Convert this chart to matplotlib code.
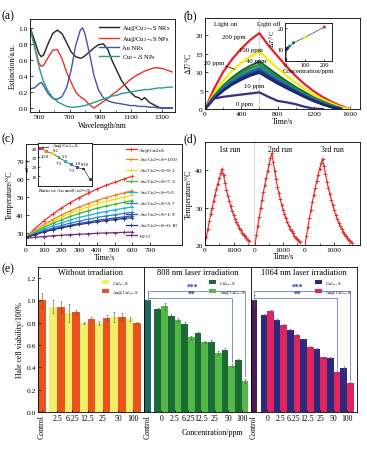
import numpy as np
import matplotlib
matplotlib.use('Agg')
import matplotlib.pyplot as plt
from matplotlib.ticker import MultipleLocator

plt.rcParams['font.family'] = ['Liberation Serif', 'DejaVu Serif']
plt.rcParams['mathtext.fontset'] = 'stix'
plt.rcParams['axes.linewidth'] = 0.6
plt.rcParams['xtick.direction'] = 'in'
plt.rcParams['ytick.direction'] = 'in'
plt.rcParams['xtick.major.size'] = 2
plt.rcParams['ytick.major.size'] = 2
plt.rcParams['xtick.minor.size'] = 1.2
plt.rcParams['ytick.minor.size'] = 1.2
plt.rcParams['xtick.major.width'] = 0.5
plt.rcParams['ytick.major.width'] = 0.5
plt.rcParams['xtick.minor.width'] = 0.4
plt.rcParams['ytick.minor.width'] = 0.4
plt.rcParams['xtick.major.pad'] = 1.5
plt.rcParams['ytick.major.pad'] = 1.5
plt.rcParams['xtick.labelsize'] = 5.4
plt.rcParams['ytick.labelsize'] = 5.4
plt.rcParams['axes.labelsize'] = 5.6
plt.rcParams['axes.labelpad'] = 1.5

# ---------------- data: panel (a) ----------------
wavelength = [445, 470, 500, 515, 530, 560, 590, 620, 650, 680, 710, 740, 770, 785, 800, 830,
              860, 890, 920, 950, 980, 1010, 1040, 1070, 1100, 1130, 1150, 1170, 1190, 1220,
              1250, 1280, 1310, 1340, 1370]
ext_nrs = [0.99, 0.85, 0.68, 0.64, 0.66, 0.80, 0.93, 0.97, 0.93, 0.82, 0.70, 0.64, 0.62, 0.63, 0.65, 0.70,
           0.75, 0.79, 0.80, 0.73, 0.58, 0.46, 0.34, 0.26, 0.19, 0.14, 0.13, 0.10, 0.13, 0.07,
           0.04, 0.01, 0.00, 0.00, 0.00]
ext_nps = [0.98, 0.78, 0.56, 0.52, 0.53, 0.63, 0.72, 0.73, 0.62, 0.45, 0.32, 0.20, 0.14, 0.12, 0.10, 0.04,
           0.00, 0.04, 0.08, 0.12, 0.17, 0.21, 0.26, 0.31, 0.36, 0.40, 0.42, 0.44, 0.46, 0.48,
           0.50, 0.50, 0.49, 0.47, 0.45]
ext_au = [0.24, 0.25, 0.30, 0.32, 0.28, 0.18, 0.12, 0.11, 0.14, 0.25, 0.47, 0.78, 0.97, 1.00, 0.93, 0.68,
          0.40, 0.22, 0.13, 0.09, 0.07, 0.06, 0.05, 0.04, 0.03, 0.03, 0.02, 0.02, 0.02, 0.01,
          0.01, 0.00, 0.00, 0.00, 0.00]
ext_cu = [0.98, 0.78, 0.52, 0.42, 0.33, 0.21, 0.13, 0.08, 0.05, 0.02, 0.01, 0.01, 0.02, 0.025, 0.03, 0.05,
          0.07, 0.09, 0.11, 0.13, 0.15, 0.16, 0.18, 0.19, 0.20, 0.21, 0.22, 0.22, 0.23, 0.23,
          0.24, 0.25, 0.25, 0.26, 0.26]
a_labels = ['Au@Cu$_{2-x}$S NRs', 'Au@Cu$_{2-x}$S NPs', 'Au NRs', 'Cu$_{2-x}$S NPs']
a_colors = ['#222222', '#e8302c', '#4452b0', '#1fa08e']

# ---------------- data: panel (b) ----------------
time_b = [0, 100, 200, 300, 400, 500, 600, 700, 800, 900, 1000, 1100, 1200, 1300, 1400, 1500, 1600]
nan = np.nan
dT_200 = [0, 5.5, 10.0, 13.5, 16.3, 18.7, 20.5, 17.2, 14.3, 11.5, 8.9, 6.7, 4.8, 3.2, 1.9, 0.8, 0.0]
dT_100 = [0, 4.2, 7.6, 10.3, 12.5, 14.2, 15.6, 13.2, 11.0, 9.0, 7.1, 5.4, 3.9, 2.6, 1.5, 0.5, 0.0]
dT_40 = [0, 3.5, 6.3, 8.5, 10.3, 11.7, 12.8, 11.0, 9.2, 7.5, 5.9, 4.5, 3.1, 2.0, 1.0, 0.2, nan]
dT_30 = [0, 3.3, 5.9, 8.0, 9.7, 11.0, 12.0, 10.3, 8.6, 7.0, 5.5, 4.1, 2.9, 1.8, 0.9, 0.1, nan]
dT_20 = [0, 3.1, 5.6, 7.5, 9.1, 10.3, 11.3, 9.7, 8.1, 6.6, 5.2, 3.9, 2.7, 1.6, 0.7, 0.0, nan]
dT_15 = [0, 3.0, 5.3, 7.2, 8.7, 9.9, 10.8, 9.2, 7.7, 6.3, 4.9, 3.6, 2.5, 1.5, 0.6, 0.0, nan]
dT_10 = [0, 2.9, 5.1, 6.9, 8.3, 9.4, 10.3, 8.8, 7.3, 6.0, 4.7, 3.4, 2.3, 1.3, 0.5, 0.0, nan]
dT_5 = [0, 2.8, 4.9, 6.6, 7.9, 9.0, 9.8, 8.3, 6.9, 5.6, 4.4, 3.2, 2.1, 1.2, 0.4, 0.0, nan]
dT_0 = [0, 2.8, 3.3, 3.6, 3.9, 4.2, 4.5, 3.3, 2.2, 1.8, 1.3, 0.6, 0.1, 0.0, nan, nan, nan]
b_series = [dT_200, dT_100, dT_40, dT_30, dT_20, dT_15, dT_10, dT_5, dT_0]
b_colors = ['#e8202a', '#f2ee00', '#17642c', '#2a8a40', '#178a8c', '#1f5ca6', '#1c2f88', '#22226a', '#3c2a8c']
inset_conc = [0, 5, 10, 20, 40, 100, 200]
inset_dT = [4.8, 9.8, 10.4, 11.3, 12.9, 15.6, 20.6]
inset_colors = ['#3c2a8c', '#22226a', '#1c2f88', '#178a8c', '#17642c', '#f2ee00', '#e8202a']

# ---------------- data: panel (c) ----------------
time_c = [0, 50, 100, 150, 200, 250, 300, 350, 400, 450, 500, 550, 600]
T_core = [27.5, 32.3, 36.7, 40.4, 43.8, 46.9, 49.6, 52.0, 54.4, 56.4, 58.1, 59.8, 61.5]
T_10_0 = [27.5, 31.1, 34.5, 37.4, 40.0, 42.3, 44.4, 46.2, 48.0, 49.6, 50.9, 52.2, 53.5]
T_9_1 = [27.5, 30.8, 33.8, 36.4, 38.8, 40.9, 42.8, 44.4, 46.1, 47.5, 48.7, 49.8, 51.0]
T_7_3 = [27.5, 30.4, 33.0, 35.3, 37.3, 39.2, 40.8, 42.3, 43.7, 44.9, 45.9, 47.0, 48.0]
T_5_5 = [27.5, 29.9, 32.1, 34.0, 35.7, 37.2, 38.6, 39.7, 40.9, 41.9, 42.8, 43.7, 44.5]
T_3_7 = [27.5, 29.5, 31.3, 32.8, 34.2, 35.5, 36.6, 37.6, 38.6, 39.4, 40.1, 40.8, 41.5]
T_1_9 = [27.5, 29.2, 30.7, 32.1, 33.3, 34.3, 35.3, 36.1, 37.0, 37.7, 38.3, 38.9, 39.5]
T_0_10 = [27.5, 29.0, 30.5, 31.7, 32.8, 33.8, 34.7, 35.4, 36.2, 36.9, 37.4, 38.0, 38.5]
T_h2o = [27.0, 27.6, 28.0, 28.4, 28.7, 29.0, 29.3, 29.5, 29.8, 30.0, 30.1, 30.3, 30.5]
c_series = [T_core, T_10_0, T_9_1, T_7_3, T_5_5, T_3_7, T_1_9, T_0_10, T_h2o]
c_labels = ['Au@Cu2xS', 'Au/Cu$_{2-x}$S=10:0', 'Au/Cu$_{2-x}$S=9:1', 'Au/Cu$_{2-x}$S=7:3',
            'Au/Cu$_{2-x}$S=5:5', 'Au/Cu$_{2-x}$S=3:7', 'Au/Cu$_{2-x}$S=1:9',
            'Au/Cu$_{2-x}$S=0:10', 'H$_2$O']
c_colors = ['#ee2a2a', '#f57c20', '#f0e000', '#3db83a', '#20b0e8', '#2f7fd0', '#2f55a8', '#2c2c80', '#702a78']
ratio_dT = [40, 36.5, 34, 30, 26, 22, 19, 17.5, 6]
ratio_text = ['', '10:0', '9:1', '7:3', '5:5', '7:3', '1:9', '0:10', '']

# ---------------- data: panel (d) ----------------
time_d = [0, 50, 100, 150, 200, 250, 300, 350, 400, 450, 500, 550, 600, 650, 700, 750, 800, 850,
          900, 950, 1000, 1050, 1100, 1150, 1200, 1250, 1300, 1350, 1400, 1450, 1500, 1550, 1600]
run1 = [20.0, 22.2, 24.3, 26.3, 28.2, 30.0, 31.7, 33.3, 34.9, 36.4, 37.8, 39.1, 40.4, 38.6, 36.6, 34.8,
        33.2, 31.7, 30.3, 29.1, 28.0, 27.0, 26.1, 25.3, 24.6, 23.9, 23.3, 22.8, 22.3, 21.8, 21.4, 21.0, nan]
run2 = [20.0, 22.6, 25.1, 27.5, 29.8, 32.0, 34.1, 36.1, 38.0, 39.8, 41.5, 43.1, 44.5, 42.2, 39.8, 37.6,
        35.6, 33.8, 32.2, 30.7, 29.4, 28.2, 27.1, 26.1, 25.2, 24.4, 23.7, 23.1, 22.5, 22.0, 21.5, 21.1, 20.7]
run3 = [20.0, 22.4, 24.8, 27.1, 29.3, 31.4, 33.4, 35.3, 37.1, 38.8, 40.4, 41.8, 43.0, 41.0, 38.9, 36.9,
        35.1, 33.5, 32.0, 30.6, 29.3, 28.1, 27.0, 26.0, 25.1, 24.3, 23.6, 23.0, 22.4, 21.9, 21.4, 21.0, 20.6]
run_names = ['1st run', '2nd run', '3rd run']

# ---------------- data: panel (e) ----------------
conc_g1 = ['Control', '2.5', '6.25', '12.5', '25', '50', '100']
conc_g23 = ['Control', '0', '2.5', '6.25', '12.5', '25', '50', '100']
ctrl_none, ctrl_none_err = 1.00, 0.065
cu_none = [0.945, 0.887, 0.797, 0.800, 0.850, 0.836]
cu_none_err = [0.06, 0.08, 0.01, 0.02, 0.045, 0.02]
au_none = [0.940, 0.896, 0.836, 0.845, 0.850, 0.800]
au_none_err = [0.055, 0.015, 0.015, 0.025, 0.035, 0.008]
ctrl_808, ctrl_808_err = 1.00, 0.07
cu_808 = [0.925, 0.865, 0.790, 0.710, 0.628, 0.560, 0.467]
cu_808_err = [0.005, 0.01, 0.02, 0.005, 0.02, 0.01, 0.01]
au_808 = [0.946, 0.826, 0.670, 0.630, 0.528, 0.416, 0.280]
au_808_err = [0.03, 0.02, 0.015, 0.01, 0.02, 0.015, 0.02]
ctrl_1064, ctrl_1064_err = 1.00, 0.05
cu_1064 = [0.870, 0.826, 0.737, 0.653, 0.569, 0.485, 0.395]
cu_1064_err = [0.01, 0.005, 0.008, 0.005, 0.005, 0.005, 0.015]
au_1064 = [0.904, 0.784, 0.690, 0.587, 0.490, 0.362, 0.260]
au_1064_err = [0.01, 0.005, 0.008, 0.005, 0.005, 0.015, 0.01]
group_titles = ['Without irradiation', '808 nm laser irradiation', '1064 nm laser irradiation']

# ---------------- figure ----------------
W, H = 367, 452
fig = plt.figure(figsize=(W / 100, H / 100), dpi=100)


def add_ax(l, t, r, b):
    return fig.add_axes([l / W, 1 - b / H, (r - l) / W, (b - t) / H])


def plabel(x, y, s):
    fig.text(x / W, 1 - y / H, s, fontsize=8.5, ha='left', va='center')


# ---- (a)
ax = add_ax(30, 20, 175, 113)
for ys, c, lab in zip([ext_nrs, ext_nps, ext_au, ext_cu], a_colors, a_labels):
    ax.plot(wavelength, ys, color=c, lw=1.0, label=lab)
ax.set_xlim(442, 1388)
ax.set_ylim(-0.05, 1.11)
ax.set_xticks([500, 700, 900, 1100, 1300])
ax.xaxis.set_minor_locator(MultipleLocator(100))
ax.set_yticks([0.0, 0.2, 0.4, 0.6, 0.8, 1.0])
ax.set_yticklabels(['0.0', '0.2', '0.4', '0.6', '0.8', '1.0'])
ax.set_xlabel('Wavelength/nm')
ax.set_ylabel('Extinction/a.u.')
ax.legend(loc='upper right', fontsize=4.6, frameon=False, handlelength=3.2, handletextpad=0.5,
          labelspacing=0.25, borderaxespad=0.3)
plabel(2, 16, '(a)')

# ---- (b)
ax = add_ax(205, 19, 360, 110)
for ys, c in zip(b_series, b_colors):
    ax.plot(time_b, ys, color=c, lw=1.6, solid_joinstyle='round')
ax.axvline(600, color='#555555', lw=0.5, ls=':')
ax.set_xlim(0, 1710)
ax.set_ylim(0, 24.6)
ax.set_xticks([0, 400, 800, 1200, 1600])
ax.xaxis.set_minor_locator(MultipleLocator(200))
ax.set_yticks([0, 5, 10, 15, 20])
ax.set_xlabel('Time/s', labelpad=1)
ax.set_ylabel(r'$\Delta T$/°C')
fs = 4.9
ax.text(226, 23.2, 'Light on', fontsize=fs, ha='center', va='center')
ax.text(700, 23.2, 'Light off', fontsize=4.7, ha='center', va='center')
ax.text(320, 19.6, '200 ppm', fontsize=fs, ha='center', va='center')
ax.text(505, 16.1, '100 ppm', fontsize=fs, ha='center', va='center')
ax.text(560, 13.1, '40 ppm', fontsize=fs, ha='center', va='center')
ax.text(100, 12.6, '20 ppm', fontsize=fs, ha='center', va='center')
ax.annotate('', xy=(357, 10.5), xytext=(195, 11.9),
            arrowprops=dict(arrowstyle='-', color='black', lw=0.5))
ax.text(540, 6.4, '10 ppm', fontsize=fs, ha='center', va='center')
ax.text(440, 1.6, '0 ppm', fontsize=fs, ha='center', va='center')

axi = add_ax(285, 24, 332, 62)
axi.plot(inset_conc, inset_dT, color='#444444', lw=0.5, zorder=1)
axi.scatter(inset_conc, inset_dT, c=inset_colors, s=5, zorder=2, linewidths=0)
axi.set_xlim(-4, 240)
axi.set_ylim(4, 22.6)
axi.set_xticks([0, 100, 200])
axi.set_yticks([10, 20])
axi.tick_params(labelsize=4.6, length=1.5, pad=1)
axi.set_xlabel('Concentration/ppm', fontsize=4.8, labelpad=0.5)
axi.set_ylabel(r'$\Delta T$/°C', fontsize=4.6, labelpad=0.3)
axi.yaxis.set_label_coords(-0.2, 0.62)
plabel(184, 16, '(b)')

# ---- (c)
ax = add_ax(26, 145, 182, 246)
for ys, c, lab in zip(c_series, c_colors, c_labels):
    ax.plot(time_c, ys, color=c, lw=0.9, marker='+', ms=2.5, mew=0.6, label=lab)
ax.set_xlim(0, 880)
ax.set_ylim(23.3, 79.4)
ax.set_xticks([0, 100, 200, 300, 400, 500, 600, 700])
ax.set_yticks([30, 40, 50, 60, 70])
ax.set_xlabel('Time/s', labelpad=1)
ax.set_ylabel('Temperature/°C')
ax.legend(loc='upper right', fontsize=3.9, frameon=False, handlelength=2.1, handletextpad=0.4,
          labelspacing=0.62, borderaxespad=0.25)

axi = add_ax(38, 144, 92, 187)
xr = list(range(len(ratio_dT)))
axi.plot(xr, ratio_dT, color='#333333', lw=0.5, zorder=1)
axi.scatter(xr, ratio_dT, c=c_colors, s=4, marker='s', zorder=2, linewidths=0)
axi.set_xlim(-0.35, 8.3)
axi.set_ylim(-0.7, 45.5)
axi.set_xticks([])
axi.set_yticks([10, 20, 30, 40])
axi.tick_params(labelsize=3.8, length=1.2, pad=0.8)
axi.set_xlabel('Ratio of Au and Cu$_{2-x}$S', fontsize=3.8, labelpad=0.5)
axi.set_ylabel(r'$\Delta T$/°C', fontsize=3.8, labelpad=0.3)
offs_x = [0, -0.2, 0.5, 0, 0, 0, 0, 0.2, 0]
offs_y = [0, -5.5, 3.5, -5.5, 5, -5.5, 5, 5, 0]
for i, t in enumerate(ratio_text):
    if t:
        axi.text(i + offs_x[i], ratio_dT[i] + offs_y[i], t, fontsize=3.4, ha='center', va='center')
axi.annotate('Au@Cu$_{2-x}$S', xy=(0, ratio_dT[0]), xytext=(1.9, 43.2), fontsize=3.5,
             va='center', arrowprops=dict(arrowstyle='->', lw=0.4, color='black',
                                          shrinkA=0, shrinkB=1, mutation_scale=3))
plabel(2, 139, '(c)')

# ---- (d)
d_edges = [205, 255, 305, 360]
d_xmax = [1750, 1780, 1880]
d_axes = []
for i, run in enumerate([run1, run2, run3]):
    axd = add_ax(d_edges[i], 143, d_edges[i + 1], 246)
    axd.plot(time_d, run, color='#e8262a', lw=0.8, marker='+', ms=3, mew=0.6)
    axd.set_xlim(0, d_xmax[i])
    axd.set_ylim(20, 47.5)
    axd.set_xticks([0, 1000])
    axd.xaxis.set_minor_locator(MultipleLocator(500))
    axd.set_yticks([20, 30, 40])
    axd.text(0.5, 0.93, run_names[i], transform=axd.transAxes, fontsize=5.6, ha='center', va='center')
    if i > 0:
        axd.tick_params(axis='y', left=False, labelleft=False)
        axd.spines['left'].set_visible(False)
    if i == 0:
        axd.set_ylabel('Temperature/°C')
        axd.spines['right'].set_color('#c8c8c8')
        axd.spines['right'].set_linewidth(1.2)
    if i == 1:
        axd.spines['right'].set_color('#8a8a8a')
    d_axes.append(axd)
fig.text(283 / W, 1 - 257 / H, 'Time/s', fontsize=5.6, ha='center', va='center')
plabel(184, 139, '(d)')

# ---- (e)
e_edges = [38, 144, 251, 357]
e_xlims = [(-0.25, 6.7), (-0.28, 7.7), (-0.22, 7.76)]
ebar_kw = dict(ecolor='#555555', elinewidth=0.4, capsize=1.0, capthick=0.4)
bw = 0.5
groups = [
    (ctrl_none, ctrl_none_err, '#e8541c', cu_none, cu_none_err, au_none, au_none_err, '#f4ef6a', '#e8541c'),
    (ctrl_808, ctrl_808_err, '#1d6b67', cu_808, cu_808_err, au_808, au_808_err, '#1c6b35', '#52b848'),
    (ctrl_1064, ctrl_1064_err, '#4b1c4f', cu_1064, cu_1064_err, au_1064, au_1064_err, '#2d2a7e', '#e0245e'),
]
e_axes = []
for g, (cv, ce, ccol, cu, cue, au, aue, col1, col2) in enumerate(groups):
    axe = add_ax(e_edges[g], 268, e_edges[g + 1], 413)
    n = len(cu)
    xs = np.arange(1, n + 1)
    axe.bar([0], [cv], width=bw, color=ccol, yerr=[ce], error_kw=ebar_kw)
    axe.bar(xs - bw / 2, cu, width=bw, color=col1, yerr=cue, error_kw=ebar_kw, label='Cu$_{2-x}$S')
    axe.bar(xs + bw / 2, au, width=bw, color=col2, yerr=aue, error_kw=ebar_kw, label='Au@Cu$_{2-x}$S')
    axe.set_xlim(*e_xlims[g])
    axe.set_ylim(0, 1.3)
    labels = conc_g1 if g == 0 else conc_g23
    axe.set_xticks(range(len(labels)))
    axe.set_xticklabels(labels, fontsize=5.6)
    for lab in axe.get_xticklabels():
        if lab.get_text() == 'Control':
            lab.set_rotation(90)
            lab.set_va('top')
    axe.tick_params(axis='x', length=1.2, pad=1.5)
    axe.set_yticks([0, 0.2, 0.4, 0.6, 0.8, 1.0, 1.2])
    if g == 0:
        axe.set_yticklabels(['0.0', '0.2', '0.4', '0.6', '0.8', '1.0', '1.2'])
        axe.set_ylabel('Hale cell viability/100%')
    else:
        axe.tick_params(axis='y', left=False, labelleft=False)
    axe.text(0.5, 0.965, group_titles[g], transform=axe.transAxes, fontsize=6.0,
             ha='center', va='center')
    axe.legend(loc='upper right', bbox_to_anchor=(0.97, 0.93), fontsize=3.4, frameon=False,
               handlelength=1.6, handleheight=0.9, handletextpad=0.6, labelspacing=0.3,
               borderaxespad=0)
    if g > 0:
        lc = '#7d92c8'
        top_hi, top_lo = 1.085, 1.02
        end_hi = au[-1] + aue[-1] + 0.02
        end_lo = au[-2] + aue[-2] + 0.02
        axe.plot([0, 0, n + bw / 2, n + bw / 2], [cv + 0.005, top_hi, top_hi, end_hi], color=lc, lw=0.7)
        axe.plot([0, n - 1 + bw / 2, n - 1 + bw / 2], [top_lo, top_lo, end_lo], color=lc, lw=0.7)
        axe.text(3.3, top_hi + 0.003, '***', color='#1f3a93', fontsize=5.5, ha='center', va='bottom',
                 fontweight='bold')
        axe.text(3.3, top_lo + 0.003, '**', color='#1f3a93', fontsize=5.5, ha='center', va='bottom',
                 fontweight='bold')
    e_axes.append(axe)
fig.text(212 / W, 1 - 433 / H, 'Concentration/ppm', fontsize=5.8, ha='center', va='center')
plabel(2, 269, '(e)')

fig.savefig('out.png', dpi=100)
